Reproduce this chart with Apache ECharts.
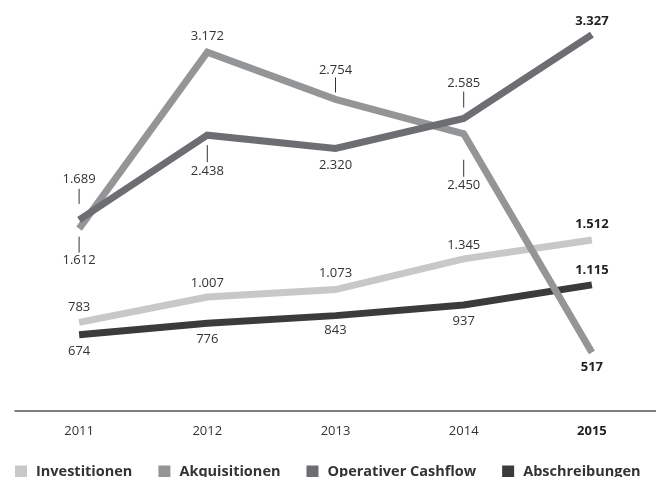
<!DOCTYPE html>
<html>
<head>
<meta charset="utf-8">
<script src="https://cdn.jsdelivr.net/npm/echarts@6/dist/echarts.min.js"></script>
<style>html,body{margin:0;padding:0;background:#fff}#c{width:656px;height:477px}</style>
</head>
<body>
<div id="c"></div>
<script>
var years = ['2011', '2012', '2013', '2014', '2015'];
var investitionen = [783, 1007, 1073, 1345, 1512];
var akquisitionen = [1612, 3172, 2754, 2450, 517];
var cashflow = [1689, 2438, 2320, 2585, 3327];
var abschreibungen = [674, 776, 843, 937, 1115];
var seriesNames = ['Investitionen', 'Akquisitionen', 'Operativer Cashflow', 'Abschreibungen'];

var FONT = 'Open Sans';
function fmt(v) { return String(v).replace(/\B(?=(\d{3})+(?!\d))/g, '.'); }

// label placement per point: [position, distance]
var labelCfg = {
  'Investitionen': [['top', 8], ['top', 7], ['top', 9], ['top', 7], ['top', 9]],
  'Akquisitionen': [['bottom', 25], ['top', 9], ['top', 22], ['bottom', 44], ['bottom', 8]],
  'Operativer Cashflow': [['top', 34], ['bottom', 29], ['bottom', 10], ['top', 28], ['top', 6]],
  'Abschreibungen': [['bottom', 10], ['bottom', 9], ['bottom', 8], ['bottom', 9], ['top', 8]]
};
// leader ticks: [series, index, from offset, to offset] (pixel offsets from point)
var tickCfg = [
  ['Operativer Cashflow', 0, -16, -31],
  ['Akquisitionen', 0, 8, 24],
  ['Operativer Cashflow', 1, 10, 27],
  ['Akquisitionen', 2, -7, -22],
  ['Operativer Cashflow', 3, -11, -27],
  ['Akquisitionen', 3, 26, 43]
];
var seriesData = {
  'Investitionen': investitionen,
  'Akquisitionen': akquisitionen,
  'Operativer Cashflow': cashflow,
  'Abschreibungen': abschreibungen
};
var colors = {
  'Investitionen': '#c8c8c9',
  'Akquisitionen': '#949597',
  'Operativer Cashflow': '#6d6e71',
  'Abschreibungen': '#3b3b3c'
};

function makeLine(name, z) {
  var vals = seriesData[name];
  return {
    name: name,
    type: 'line',
    z: z,
    symbol: 'circle',
    symbolSize: 1,
    showSymbol: true,
    itemStyle: { color: colors[name], opacity: 0 },
    lineStyle: { width: 7, color: colors[name], cap: 'butt', join: 'miter', opacity: 1 },
    labelLayout: { hideOverlap: false },
    data: vals.map(function (v, i) {
      var cfg = labelCfg[name][i];
      var last = i === vals.length - 1;
      return {
        value: v,
        label: {
          show: true,
          position: cfg[0],
          distance: cfg[1],
          formatter: function (p) { return fmt(p.value); },
          fontFamily: FONT,
          fontSize: 13,
          fontWeight: last ? 'bold' : 'normal',
          color: last ? '#222' : '#333',
          opacity: 1
        }
      };
    })
  };
}

var tickData = tickCfg.map(function (t) {
  return [t[1], seriesData[t[0]][t[1]], t[2], t[3]];
});

var chart = echarts.init(document.getElementById('c'));
chart.setOption({
  animation: false,
  backgroundColor: '#fff',
  grid: { left: 15, right: 0, top: 15, bottom: 66, containLabel: false },
  legend: {
    data: seriesNames.map(function (n) {
      return { name: n, itemStyle: { color: colors[n], opacity: 1 } };
    }),
    left: 10,
    top: 459,
    icon: 'rect',
    itemWidth: 12,
    itemHeight: 12,
    itemGap: 26,
    itemStyle: { opacity: 1 },
    textStyle: { fontFamily: FONT, fontSize: 14.5, fontWeight: 'bold', color: '#333', padding: [0, 0, 0, 4] }
  },
  xAxis: {
    type: 'category',
    data: years,
    boundaryGap: true,
    axisLine: { lineStyle: { color: '#555', width: 1.5 } },
    axisTick: { show: false },
    axisLabel: {
      margin: 14,
      fontFamily: FONT,
      fontSize: 13,
      color: '#333',
      formatter: function (v, i) { return i === years.length - 1 ? '{b|' + v + '}' : v; },
      rich: { b: { fontFamily: FONT, fontSize: 13, fontWeight: 'bold', color: '#222' } }
    }
  },
  yAxis: {
    type: 'value',
    min: 0,
    max: 3500,
    show: false,
    splitLine: { show: false }
  },
  series: [
    makeLine('Investitionen', 2),
    makeLine('Abschreibungen', 3),
    makeLine('Akquisitionen', 4),
    makeLine('Operativer Cashflow', 5),
    {
      type: 'custom',
      z: 6,
      silent: true,
      data: tickData,
      renderItem: function (params, api) {
        var pt = api.coord([api.value(0), api.value(1)]);
        return {
          type: 'line',
          shape: { x1: pt[0], y1: pt[1] + api.value(2), x2: pt[0], y2: pt[1] + api.value(3) },
          style: { stroke: '#333', lineWidth: 1 }
        };
      }
    }
  ]
});
</script>
</body>
</html>
